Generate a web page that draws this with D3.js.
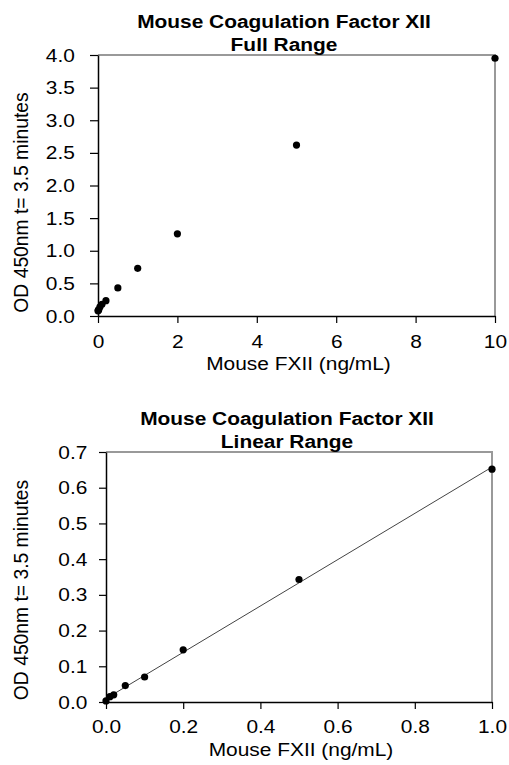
<!DOCTYPE html>
<html>
<head>
<meta charset="utf-8">
<script src="https://cdn.jsdelivr.net/npm/d3@7"></script>
<style>
  body { margin: 0; background: #fff; }
  text { font-family: "Liberation Sans", Arial, sans-serif; fill: #000; }
</style>
</head>
<body>
<script>
//Data
    const fullConc = [0, 0.01, 0.02, 0.05, 0.1, 0.2, 0.5, 1, 2, 5, 10];
    const fullOD = [0.08, 0.09, 0.10, 0.14, 0.18, 0.235, 0.43, 0.73, 1.26, 2.62, 3.95];
    const fullXTicks = [0, 2, 4, 6, 8, 10];
    const fullYTicks = [0, 0.5, 1, 1.5, 2, 2.5, 3, 3.5, 4];

    const linConc = [0, 0.01, 0.02, 0.05, 0.1, 0.2, 0.5, 1];
    const linOD = [0.003, 0.015, 0.02, 0.046, 0.07, 0.146, 0.343, 0.652];
    const linXTicks = [0, 0.2, 0.4, 0.6, 0.8, 1];
    const linYTicks = [0, 0.1, 0.2, 0.3, 0.4, 0.5, 0.6, 0.7];

    const titleLine1 = "Mouse Coagulation Factor XII";
    const xTitle = "Mouse FXII (ng/mL)";
    const yTitle = "OD 450nm t= 3.5 minutes";

    const width = 509;
    const height = 765;
    const stretch = 1.1; //horizontal text in the picture is a bit wide
    const fs = 19;

    const svg = d3.select("body")
                .append("svg")
                .attr("width", width)
                .attr("height", height);

//one panel = frame, axes, dots (and optional trend line)
    function drawPanel(opt) {
        const xScale = d3.scaleLinear()
                        .domain(opt.xDomain)
                        .range([opt.left, opt.right]);
        const yScale = d3.scaleLinear()
                        .domain(opt.yDomain)
                        .range([opt.bottom, opt.top]);

        const g = svg.append("g");

        //gray top + right border
        g.append("path")
            .attr("d", `M${opt.left},${opt.top}H${opt.right}V${opt.bottom}`)
            .attr("fill", "none")
            .attr("stroke", "#999")
            .attr("stroke-width", 2);

        //axes
        const bottomAxis = d3.axisBottom(xScale)
                             .tickValues(opt.xTicks)
                             .tickFormat(opt.xFormat)
                             .tickSize(7)
                             .tickSizeOuter(0)
                             .tickPadding(opt.xPad);
        const leftAxis = d3.axisLeft(yScale)
                           .tickValues(opt.yTicks)
                           .tickFormat(d3.format(".1f"))
                           .tickSize(opt.yTickSize)
                           .tickSizeOuter(0)
                           .tickPadding(opt.yPad);

        const gx = g.append("g")
            .attr("transform", "translate(0," + opt.bottom + ")")
            .call(bottomAxis);
        const gy = g.append("g")
            .attr("transform", "translate(" + opt.left + ",0)")
            .call(leftAxis);

        [gx, gy].forEach(a => {
            a.select(".domain").attr("stroke", "#000").attr("stroke-width", 1.5);
            a.selectAll(".tick line").attr("stroke", "#000").attr("stroke-width", 1.2);
            a.selectAll("text")
                .attr("font-family", "Liberation Sans, Arial, sans-serif")
                .attr("font-size", fs)
                .attr("fill", "#000")
                .attr("transform", `scale(${stretch},1)`);
        });
        //keep x labels on their ticks after the stretch
        gx.selectAll("text").attr("x", 0);

        //trend line (least squares through the dots)
        if (opt.trend) {
            const mx = d3.mean(opt.x), my = d3.mean(opt.y);
            const sxy = d3.sum(opt.x, (v, i) => (v - mx) * (opt.y[i] - my));
            const sxx = d3.sum(opt.x, v => (v - mx) * (v - mx));
            const slope = sxy / sxx, icpt = my - slope * mx;
            const ends = opt.xDomain;
            g.append("line")
                .attr("x1", xScale(ends[0])).attr("y1", yScale(icpt + slope * ends[0]))
                .attr("x2", xScale(ends[1])).attr("y2", yScale(icpt + slope * ends[1]))
                .attr("stroke", "#444")
                .attr("stroke-width", 1);
        }

        //dots
        g.selectAll("circle")
            .data(opt.x)
            .enter()
            .append("circle")
            .attr("cx", d => xScale(d))
            .attr("cy", (d, i) => yScale(opt.y[i]))
            .attr("r", 3.6)
            .attr("fill", "#000");

        //titles
        const cx = (opt.left + opt.right) / 2;
        [titleLine1, opt.subtitle].forEach((t, i) => {
            g.append("g")
                .attr("transform", `translate(${opt.titleX},${opt.titleY + i * 23})`)
              .append("text")
                .attr("transform", `scale(${stretch},1)`)
                .attr("text-anchor", "middle")
                .attr("font-weight", "bold")
                .attr("font-size", fs)
                .text(t);
        });

        g.append("g")
            .attr("transform", `translate(${cx + 2},${opt.bottom + 54})`)
          .append("text")
            .attr("transform", `scale(${stretch},1)`)
            .attr("text-anchor", "middle")
            .attr("font-size", fs)
            .text(xTitle);

        g.append("text")
            .attr("transform", `translate(28,${(opt.top + opt.bottom) / 2 + opt.yLabelShift}) rotate(-90)`)
            .attr("text-anchor", "middle")
            .attr("font-size", 19.3)
            .text(yTitle);
    }

    drawPanel({
        x: fullConc, y: fullOD,
        xDomain: [0, 10], yDomain: [0, 4],
        xTicks: fullXTicks, yTicks: fullYTicks,
        xFormat: d3.format("d"),
        left: 98, right: 495, top: 55, bottom: 316,
        yTickSize: 8, yPad: 13, xPad: 12,
        titleX: 284, titleY: 28,
        subtitle: "Full Range",
        yLabelShift: 17,
        trend: false
    });

    drawPanel({
        x: linConc, y: linOD,
        xDomain: [0, 1], yDomain: [0, 0.7],
        xTicks: linXTicks, yTicks: linYTicks,
        xFormat: d3.format(".1f"),
        left: 106, right: 492, top: 452, bottom: 702,
        yTickSize: 7, yPad: 10, xPad: 11,
        titleX: 287, titleY: 425,
        subtitle: "Linear Range",
        yLabelShift: 13,
        trend: true
    });
</script>
</body>
</html>
